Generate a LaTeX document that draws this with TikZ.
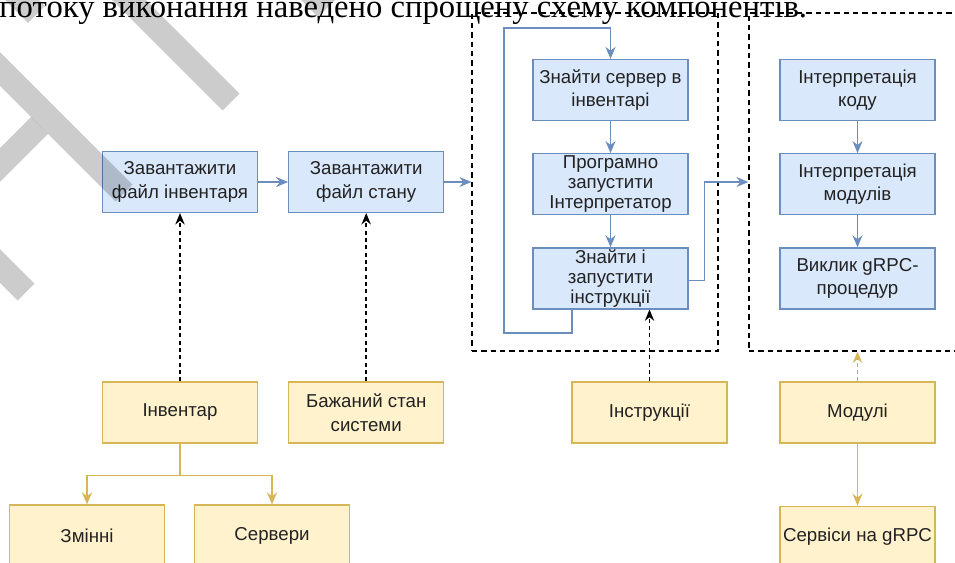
\documentclass[tikz,border=0pt]{standalone}
\usepackage{fontspec}
\setmainfont{Liberation Serif}
\newfontfamily\boxfont{Liberation Sans}
\usetikzlibrary{arrows.meta,positioning}
\definecolor{blueFill}{HTML}{DAE8FC}
\definecolor{blueLine}{HTML}{6C8EBF}
\definecolor{yellowFill}{HTML}{FFF2CC}
\definecolor{yellowLine}{HTML}{D6B656}
\definecolor{boxText}{HTML}{222222}
\tikzset{
  box/.style={draw, line width=0.9pt, align=center, text=boxText,
              font=\boxfont\fontsize{14}{17.5}\selectfont,
              minimum width=116.25pt, minimum height=45.75pt, inner sep=0.5pt},
  tight/.style={font=\boxfont\fontsize{14}{15}\selectfont},
  bluebox/.style={box, draw=blueLine, fill=blueFill},
  yellowbox/.style={box, draw=yellowLine, fill=yellowFill},
  frame/.style={draw, line width=0.9pt, dash pattern=on 4pt off 3pt, minimum height=253.5pt},
  barr/.style={-{Stealth[length=9pt, width=7.5pt]}, line width=1.1pt, color=blueLine},
  yarr/.style={-{Stealth[length=9pt, width=7.5pt]}, line width=1.1pt, color=yellowLine},
  darr/.style={-{Stealth[length=8.5pt, width=7pt]}, line width=1.1pt, dash pattern=on 3pt off 2.5pt},
  stripe/.style={line width=18pt, black, opacity=0.2}
}

\begin{document}
\begin{tikzpicture}[x=0.75pt, y=-0.75pt]
    \useasboundingbox (0,0) rectangle (955,563);
    \clip (0,0) rectangle (955,563);
    \node[anchor=base west, inner sep=0pt, font=\fontsize{24.5}{28}\selectfont] (caption) at (-1,17.5)
      {потоку виконання наведено спрощену схему компонентів.};

    % dashed groups
    \node[frame, minimum width=184.5pt] (F1) at (595,182) {};
    \node[frame, minimum width=162.75pt] (F2) at (857.5,182) {};

    % loading
    \node[bluebox] (B1) at (180,182) {Завантажити\\файл інвентаря};
    \node[bluebox, right=22.5pt of B1] (B2) {Завантажити\\файл стану};

    % run loop
    \node[bluebox] (A1) at (610.5,90) {Знайти сервер в\\інвентарі};
    \node[bluebox, tight, below=24pt of A1] (A2) {Програмно\\запустити\\Інтерпретатор};
    \node[bluebox, tight, below=24pt of A2] (A3) {Знайти і\\запустити\\інструкції};

    % interpreter
    \node[bluebox] (C1) at (857.5,90) {Інтерпретація\\коду};
    \node[bluebox, below=24pt of C1] (C2) {Інтерпретація\\модулів};
    \node[bluebox, below=24pt of C2] (C3) {Виклик gRPC-\\процедур};

    % inputs
    \node[yellowbox] (Y1) at (180,412.5) {Інвентар};
    \node[yellowbox, right=22.5pt of Y1] (Y2) {Бажаний стан\\системи};
    \node[yellowbox] (Y3) at (649.5,412.5) {Інструкції};
    \node[yellowbox] (Y4) at (857.5,412.5) {Модулі};
    \node[yellowbox] (Y5) at (87,535.5) {Змінні};
    \node[yellowbox] (Y6) at (272,535.5) {Сервери};
    \node[yellowbox, below=46.5pt of Y4] (Y7) {Сервіси на gRPC};

    \coordinate (loopBL) at (504,333);
    \coordinate (loopTL) at (504,28);

    \draw[barr] (B1) -- (B2);
    \draw[barr] (B2) -- (F1);
    \draw[barr] (A1) -- (A2);
    \draw[barr] (A2) -- (A3);
    \draw[barr] ([xshift=-28.9pt]A3.south) |- (loopBL) -- (loopTL) -| (A1.north);
    \draw[barr] ([yshift=-1.5pt]A3.east) -- ++(16,0) |- (F2.west);
    \draw[barr] (C1) -- (C2);
    \draw[barr] (C2) -- (C3);

    \draw[darr] (Y1) -- (B1);
    \draw[darr] (Y2) -- (B2);
    \draw[darr] (Y3.north) -- (Y3.north |- A3.south);
    \draw[darr, draw=gray!70, -{Stealth[length=8.5pt, width=7pt, color=yellowLine]}] (Y4) -- (F2);

    \draw[yarr] (Y1.south) -- ++(0,32) -| (Y5.north);
    \draw[yarr] (Y1.south) -- ++(0,32) -| (Y6.north);
    \draw[yarr] (Y4) -- (Y7);

    % watermark
    \draw[stripe] (-20,-42) -- (36.5,14.5);
    \draw[stripe] (-30,39) -- (124,193);
    \draw[stripe] (39.5,125.5) -- (-20,185);
    \draw[stripe] (110,-19) -- (231,102);
    \draw[stripe] (300,-18) -- (326.5,8.5);
    \draw[stripe] (-30,236) -- (26,292);
  \end{tikzpicture}
\end{document}
